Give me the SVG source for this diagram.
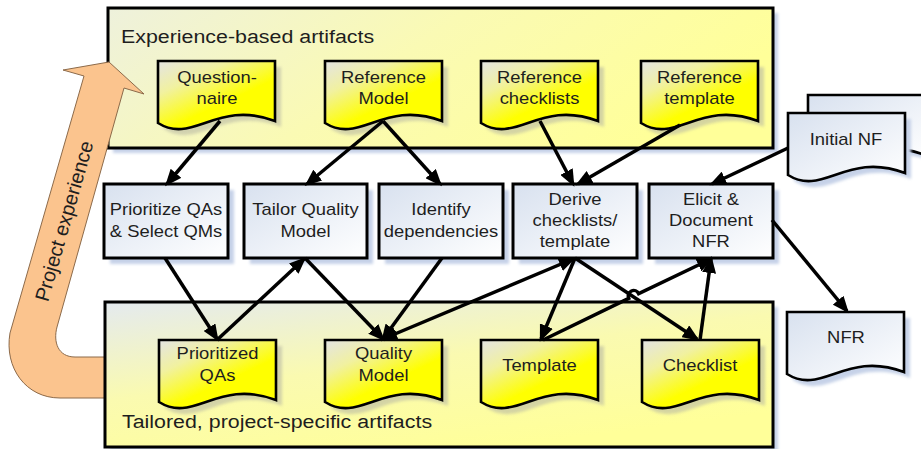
<svg xmlns="http://www.w3.org/2000/svg" xmlns:xlink="http://www.w3.org/1999/xlink" width="921" height="449" viewBox="0 0 921 449">
<defs>
<style>
.box{fill:url(#gBox);stroke:#000;stroke-width:3}
.doc{fill:url(#gDoc);stroke:#000;stroke-width:2.6}
.wdoc{fill:url(#gBox);stroke:#000;stroke-width:2.6}
.shB{fill:#c6d2e8;filter:url(#blur)}
.shG{fill:#b9b9a4;opacity:.6;filter:url(#blur)}
.t{font-family:"Liberation Sans",Arial,sans-serif;font-size:16px;fill:#1e1e1e;text-anchor:middle}
.ttl{font-family:"Liberation Sans",Arial,sans-serif;font-size:18.6px;fill:#1e1e1e}
.conn{stroke:#000;stroke-width:3.5;fill:none;marker-end:url(#ah)}
</style>
<filter id="blur" x="-10%" y="-10%" width="120%" height="120%"><feGaussianBlur stdDeviation="1.5"/></filter>
<linearGradient id="gDoc" x1="0" y1="0" x2="0.8" y2="1">
<stop offset="0" stop-color="#e4e4e4"/><stop offset="0.3" stop-color="#f1f1a0"/><stop offset="0.65" stop-color="#ffff00"/>
</linearGradient>
<linearGradient id="gBox" x1="0" y1="0" x2="1" y2="1">
<stop offset="0" stop-color="#d8e1ef"/><stop offset="1" stop-color="#ffffff"/>
</linearGradient>
<linearGradient id="gTop" x1="0" y1="0" x2="1" y2="0.3">
<stop offset="0" stop-color="#eef1dc"/><stop offset="0.5" stop-color="#fafab4"/><stop offset="1" stop-color="#ffff99"/>
</linearGradient>
<linearGradient id="gBot" x1="0" y1="0" x2="0.6" y2="1">
<stop offset="0" stop-color="#e4eaef"/><stop offset="0.5" stop-color="#fafab0"/><stop offset="1" stop-color="#ffff99"/>
</linearGradient>
<path id="docShape" d="M0,0 H117 V60 C58.5,38 35.1,84 0,62 Z"/>
<marker id="ah" viewBox="0 0 17 14" refX="14" refY="7" markerWidth="17" markerHeight="14" markerUnits="userSpaceOnUse" orient="auto-start-reverse">
<path d="M0,0 L17,7 L0,14 Z" fill="#000"/>
</marker>
</defs>

<g id="experience-based-artifacts">
<rect x="113" y="13" width="665" height="140" class="shB"/>
<rect x="108" y="8" width="665" height="140" fill="url(#gTop)" stroke="#000" stroke-width="3"/>
<text class="ttl" transform="translate(121,43) scale(1.15,1)">Experience-based artifacts</text>
</g>

<g id="project-experience">
<path d="M105,398 L60,398 C26,398 4,368 10,333 L84,76 L63,70 L109,62 L144,94 L124,88 L57,327 C53,342 58,357 75,357 L105,357 Z" fill="#fbc48e" stroke="#8c6a4a" stroke-width="1"/>
<text class="ttl" transform="translate(64,221) rotate(-74)" text-anchor="middle" dy="7" style="font-size:20px">Project experience</text>
</g>

<g id="tailored-artifacts">
<rect x="110" y="307" width="668" height="145" class="shB"/>
<rect x="105" y="302" width="668" height="145" fill="url(#gBot)" stroke="#000" stroke-width="3"/>
<text class="ttl" transform="translate(122,428) scale(1.15,1)">Tailored, project-specific artifacts</text>
</g>

<g id="questionnaire">
<use xlink:href="#docShape" transform="translate(164,67)" class="shG"/>
<use xlink:href="#docShape" transform="translate(158,61)" class="doc"/>
<text class="t" transform="translate(217,0) scale(1.15,1)"><tspan x="0" y="83">Question-</tspan><tspan x="0" y="104">naire</tspan></text>
</g>
<g id="reference-model">
<use xlink:href="#docShape" transform="translate(331,67)" class="shG"/>
<use xlink:href="#docShape" transform="translate(325,61)" class="doc"/>
<text class="t" transform="translate(383.5,0) scale(1.15,1)"><tspan x="0" y="83">Reference</tspan><tspan x="0" y="104">Model</tspan></text>
</g>
<g id="reference-checklists">
<use xlink:href="#docShape" transform="translate(487,67)" class="shG"/>
<use xlink:href="#docShape" transform="translate(481,61)" class="doc"/>
<text class="t" transform="translate(539.5,0) scale(1.15,1)"><tspan x="0" y="83">Reference</tspan><tspan x="0" y="104">checklists</tspan></text>
</g>
<g id="reference-template">
<use xlink:href="#docShape" transform="translate(647,67)" class="shG"/>
<use xlink:href="#docShape" transform="translate(641,61)" class="doc"/>
<text class="t" transform="translate(699.5,0) scale(1.15,1)"><tspan x="0" y="83">Reference</tspan><tspan x="0" y="104">template</tspan></text>
</g>

<g id="initial-nf">
<use xlink:href="#docShape" transform="translate(814,101)" class="shB"/>
<use xlink:href="#docShape" transform="translate(808,95)" class="wdoc"/>
<use xlink:href="#docShape" transform="translate(794,119)" class="shB"/>
<use xlink:href="#docShape" transform="translate(788,113)" class="wdoc"/>
<text class="t" transform="translate(846,0) scale(1.15,1)"><tspan x="0" y="145">Initial NF</tspan></text>
</g>

<g id="prioritize-qas">
<rect x="110" y="190" width="124" height="74" class="shB"/>
<rect x="104" y="184" width="124" height="74" class="box"/>
<text class="t" transform="translate(166,0) scale(1.15,1)"><tspan x="0" y="215">Prioritize QAs</tspan><tspan x="0" y="237">&amp; Select QMs</tspan></text>
</g>
<g id="tailor-quality-model">
<rect x="250" y="190" width="123" height="74" class="shB"/>
<rect x="244" y="184" width="123" height="74" class="box"/>
<text class="t" transform="translate(305.5,0) scale(1.15,1)"><tspan x="0" y="215">Tailor Quality</tspan><tspan x="0" y="237">Model</tspan></text>
</g>
<g id="identify-dependencies">
<rect x="385" y="190" width="124" height="74" class="shB"/>
<rect x="379" y="184" width="124" height="74" class="box"/>
<text class="t" transform="translate(441,0) scale(1.15,1)"><tspan x="0" y="215">Identify</tspan><tspan x="0" y="237">dependencies</tspan></text>
</g>
<g id="derive-checklists-template">
<rect x="519" y="190" width="124" height="74" class="shB"/>
<rect x="513" y="184" width="124" height="74" class="box"/>
<text class="t" transform="translate(575,0) scale(1.15,1)"><tspan x="0" y="205">Derive</tspan><tspan x="0" y="226">checklists/</tspan><tspan x="0" y="247">template</tspan></text>
</g>
<g id="elicit-document-nfr">
<rect x="655" y="190" width="124" height="74" class="shB"/>
<rect x="649" y="184" width="124" height="74" class="box"/>
<text class="t" transform="translate(711,0) scale(1.15,1)"><tspan x="0" y="205">Elicit &amp;</tspan><tspan x="0" y="226">Document</tspan><tspan x="0" y="247">NFR</tspan></text>
</g>

<g id="prioritized-qas">
<use xlink:href="#docShape" transform="translate(165,346)" class="shG"/>
<use xlink:href="#docShape" transform="translate(159,340)" class="doc"/>
<text class="t" transform="translate(217.5,0) scale(1.15,1)"><tspan x="0" y="359">Prioritized</tspan><tspan x="0" y="381">QAs</tspan></text>
</g>
<g id="quality-model">
<use xlink:href="#docShape" transform="translate(331,346)" class="shG"/>
<use xlink:href="#docShape" transform="translate(325,340)" class="doc"/>
<text class="t" transform="translate(383.5,0) scale(1.15,1)"><tspan x="0" y="359">Quality</tspan><tspan x="0" y="381">Model</tspan></text>
</g>
<g id="template">
<use xlink:href="#docShape" transform="translate(487,346)" class="shG"/>
<use xlink:href="#docShape" transform="translate(481,340)" class="doc"/>
<text class="t" transform="translate(539.5,0) scale(1.15,1)"><tspan x="0" y="371">Template</tspan></text>
</g>
<g id="checklist">
<use xlink:href="#docShape" transform="translate(648,346)" class="shG"/>
<use xlink:href="#docShape" transform="translate(642,340)" class="doc"/>
<text class="t" transform="translate(700,0) scale(1.15,1)"><tspan x="0" y="371">Checklist</tspan></text>
</g>

<g id="nfr">
<use xlink:href="#docShape" transform="translate(793,318)" class="shB"/>
<use xlink:href="#docShape" transform="translate(787,312)" class="wdoc"/>
<text class="t" transform="translate(846,0) scale(1.15,1)"><tspan x="0" y="343">NFR</tspan></text>
</g>

<g id="connectors">
<path class="conn" d="M220,121 L167,184"/>
<path class="conn" d="M383,121 L307,184"/>
<path class="conn" d="M383,121 L440,184"/>
<path class="conn" d="M540,121 L573,184"/>
<path class="conn" d="M680,125 L578,184"/>
<path class="conn" d="M788,148 L712,184"/>
<path class="conn" d="M772,220 L847,311"/>
<path class="conn" d="M165,258 L217,339"/>
<path class="conn" d="M217,340 L304,259"/>
<path class="conn" d="M305,258 L383,339"/>
<path class="conn" d="M442,258 L383,339"/>
<path class="conn" d="M383,339 L573,259" style="marker-start:url(#ah)"/>
<path class="conn" d="M575,258 L541,339"/>
<path class="conn" d="M575,258 L697,339"/>
<path class="conn" d="M543,340 L628.7,298.3 A5.5,5.5 0 0 1 638.7,293.7 L711,259"/>
<path class="conn" d="M700,340 L711,259"/>
</g>
</svg>
